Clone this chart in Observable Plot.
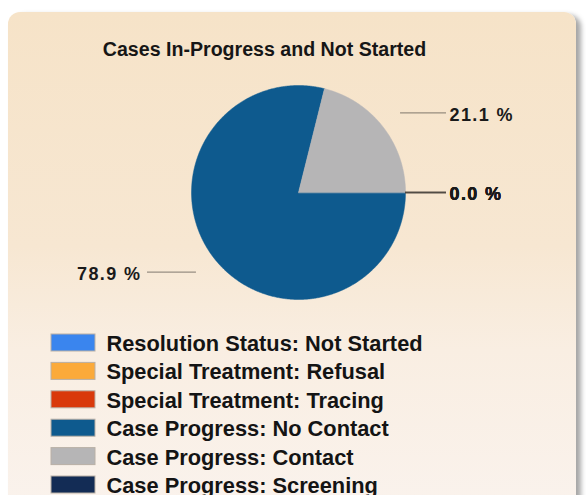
<!DOCTYPE html>
<html>
<head>
<meta charset="utf-8">
<script src="https://cdn.jsdelivr.net/npm/d3@7"></script>
<script src="https://cdn.jsdelivr.net/npm/@observablehq/plot@0.6"></script>
<style>
  html, body { margin: 0; padding: 0; background: #ffffff; width: 586px; height: 495px; overflow: hidden; }
  #panel {
    position: absolute; left: 8px; top: 12px; width: 568px; height: 520px;
    border-radius: 12px;
    background: linear-gradient(to bottom, #f6e3c8 0%, #f7e7d2 45%, #f9eee2 65%, #faf3ee 100%);
    box-shadow: 5px 3px 5px rgba(0,0,0,0.35);
  }
  #chart { position: absolute; left: 0; top: 0; }
  #chart svg { background: transparent !important; }
</style>
</head>
<body>
<div id="panel"></div>
<div id="chart"></div>
<script>
// ---- data ----
const title = "Cases In-Progress and Not Started";
const categories = [
  "Resolution Status: Not Started",
  "Special Treatment: Refusal",
  "Special Treatment: Tracing",
  "Case Progress: No Contact",
  "Case Progress: Contact",
  "Case Progress: Screening"
];
const values = [0, 0, 0, 78.9, 21.1, 0];
const colors = ["#3a85ee", "#fbaa3a", "#d9390b", "#0e5a8e", "#b6b5b6", "#132c55"];

// ---- layout ----
const W = 586, H = 495;
const cx = 298, cy = 192, r = 107;
const labelR = 1.21 * r;

const arcs = d3.pie().sort(null).value(d => d.value)
  .startAngle(Math.PI / 2).endAngle(Math.PI / 2 + 2 * Math.PI)(
    categories.map((c, i) => ({category: c, value: values[i]}))
  );

// polygon points for each slice
const slicePts = [];
arcs.forEach(a => {
  if (a.data.value <= 0) return;
  slicePts.push({category: a.data.category, px: cx, py: cy});
  const n = Math.max(2, Math.ceil((a.endAngle - a.startAngle) / (Math.PI / 360)));
  for (let k = 0; k <= n; k++) {
    const t = a.startAngle + (a.endAngle - a.startAngle) * k / n;
    slicePts.push({category: a.data.category, px: cx + r * Math.sin(t), py: cy - r * Math.cos(t)});
  }
});

// labels & leader lines
const labels = arcs.map(a => {
  const m = (a.startAngle + a.endAngle) / 2;
  const right = Math.sin(m) >= 0;
  const rin = a.data.value === 0 ? r : labelR;
  const y = cy - labelR * Math.cos(m);
  return {
    text: a.data.value.toFixed(1) + " %",
    right,
    x1: cx + rin * Math.sin(m),
    x2: right ? 446 : 147,
    y,
    tx: right ? 449 : 141
  };
});
const rightLabels = labels.filter(d => d.right);
const leftLabels = labels.filter(d => !d.right);

const legendRows = categories.map((c, i) => ({category: c, y1: 334 + i * 28.4, y2: 334 + i * 28.4 + 17}));

const labelFont = {fontSize: 18, fontWeight: "bold", fontFamily: "Liberation Sans, Arial, sans-serif", fill: "#1a1a1a"};

const plot = Plot.plot({
  width: W, height: H,
  margin: 0,
  style: {background: "transparent"},
  x: {domain: [0, W], range: [0, W], axis: null},
  y: {domain: [0, H], range: [0, H], axis: null},
  color: {domain: categories, range: colors},
  marks: [
    Plot.text([title], {x: 264, y: 49, text: d => d, fontSize: 19.6, fontWeight: "bold",
      fontFamily: "Liberation Sans, Arial, sans-serif", fill: "#161616"}),
    Plot.line(slicePts, {x: "px", y: "py", z: "category", fill: "category", stroke: "category",
      strokeWidth: 0.5, curve: "linear-closed"}),
    Plot.ruleY(labels, {y: "y", x1: "x1", x2: "x2", stroke: "#4a4540", strokeOpacity: 0.55, strokeWidth: 1.4}),
    Plot.text(rightLabels, {x: "tx", y: d => d.y + 2, text: "text", textAnchor: "start", ...labelFont}),
    Plot.text(leftLabels, {x: "tx", y: d => d.y + 2, text: "text", textAnchor: "end", ...labelFont}),
    Plot.rect(legendRows, {x1: 51, x2: 95, y1: "y1", y2: "y2", fill: "category", stroke: "#b9b0a6", strokeWidth: 1}),
    Plot.text(legendRows, {x: 106, y: d => d.y1 + 9.5, text: "category", textAnchor: "start",
      fontSize: 21.8, fontWeight: "bold", fontFamily: "Liberation Sans, Arial, sans-serif", fill: "#141414"})
  ]
});
plot.querySelectorAll("text").forEach(t => { if (/%$/.test(t.textContent)) t.setAttribute("letter-spacing", "1.4"); });
document.getElementById("chart").appendChild(plot);
</script>
</body>
</html>
